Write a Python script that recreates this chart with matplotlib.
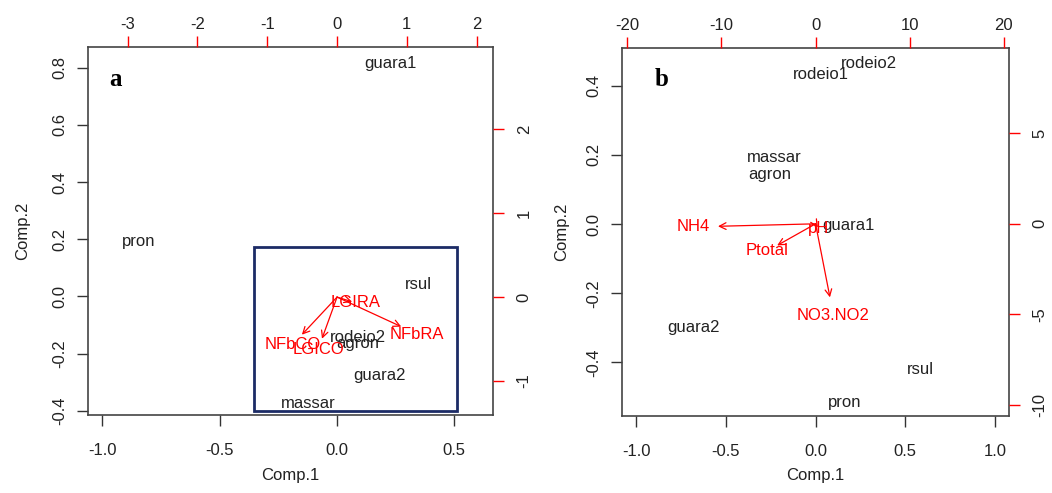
import matplotlib.pyplot as plt
import numpy as np

plt.rcParams['font.family'] = ['Liberation Sans', 'DejaVu Sans']
plt.rcParams['font.size'] = 12

# panel a: scores (Comp.1, Comp.2) and loadings
names_a = ['guara1', 'pron', 'rsul', 'rodeio2', 'agron', 'guara2', 'massar']
comp1_a = [0.226, -0.844, 0.345, 0.089, 0.090, 0.183, -0.124]
comp2_a = [0.816, 0.192, 0.040, -0.143, -0.164, -0.276, -0.373]
vars_a = ['LGIRA', 'NFbRA', 'NFbCO', 'LGICO']
load1_a = [0.27, 1.15, -0.63, -0.27]
load2_a = [-0.07, -0.44, -0.56, -0.62]
box_a = [-0.354, -0.401, 0.511, 0.174]  # x0, y0, x1, y1

# panel b
names_b = ['rodeio2', 'rodeio1', 'massar', 'agron', 'guara1', 'guara2', 'rsul', 'pron']
comp1_b = [0.295, 0.028, -0.228, -0.256, 0.184, -0.680, 0.585, 0.162]
comp2_b = [0.463, 0.431, 0.191, 0.142, -0.003, -0.298, -0.422, -0.515]
vars_b = ['NH4', 'Ptotal', 'pH', 'NO3.NO2']
load1_b = [-12.96, -5.1, 0.3, 1.91]
load2_b = [-0.17, -1.49, -0.25, -5.07]

fig = plt.figure(figsize=(10.52, 4.93), dpi=100)


def biplot(pos, names, c1, c2, vnames, l1, l2, xlim, ylim, xlim2, ylim2,
           xt, yt, xt2, yt2, tag, tagx, ylpad):
    ax = fig.add_axes(pos)
    ax.set_xlim(xlim)
    ax.set_ylim(ylim)
    ax.set_xticks(xt)
    ax.set_yticks(yt)
    ax.set_xticklabels(['%.1f' % v for v in xt])
    ax.set_yticklabels(['%.1f' % v for v in yt], rotation=90, va='center')
    ax.tick_params(direction='out', length=8, width=1, colors='#333333',
                   labelcolor='#222222')
    ax.tick_params(axis='x', pad=12)
    ax.tick_params(axis='y', pad=7)
    for s in ax.spines.values():
        s.set_color('#444444')
        s.set_linewidth(1.2)
    ax.set_xlabel('Comp.1', color='#222222', labelpad=7)
    ax.set_ylabel('Comp.2', color='#222222', labelpad=ylpad)
    for n, x, y in zip(names, c1, c2):
        ax.text(x, y, n, ha='center', va='center', color='#222222')
    ax.text(tagx, 0.913, tag, transform=ax.transAxes, family='Liberation Serif',
            fontweight='bold', fontsize=18, ha='center', va='center')

    ax2 = fig.add_axes(pos, frameon=False)
    ax2.set_xlim(xlim2)
    ax2.set_ylim(ylim2)
    ax2.xaxis.tick_top()
    ax2.yaxis.tick_right()
    ax2.set_xticks(xt2)
    ax2.set_yticks(yt2)
    ax2.set_xticklabels([str(v) for v in xt2])
    ax2.set_yticklabels([str(v) for v in yt2], rotation=90, va='center')
    ax2.tick_params(direction='out', length=8, width=1, color='red',
                    labelcolor='#222222')
    ax2.tick_params(axis='x', pad=3)
    ax2.tick_params(axis='y', pad=9)
    for n, x, y in zip(vnames, l1, l2):
        ax2.annotate('', xy=(0.8 * x, 0.8 * y), xytext=(0, 0),
                     arrowprops=dict(arrowstyle='->', color='red', lw=0.9,
                                     shrinkA=0, shrinkB=0, mutation_scale=12))
        ax2.text(x, y, n, ha='center', va='center', color='red')
    return ax, ax2


axa, axa2 = biplot([0.0837, 0.158, 0.385, 0.7465], names_a, comp1_a, comp2_a,
                   vars_a, load1_a, load2_a,
                   (-1.061, 0.665), (-0.415, 0.872), (-3.567, 2.235), (-1.405, 2.976),
                   [-1.0, -0.5, 0.0, 0.5], [-0.4, -0.2, 0.0, 0.2, 0.4, 0.6, 0.8],
                   [-3, -2, -1, 0, 1, 2], [-1, 0, 1, 2], 'a', 0.067, 16)
axa.add_patch(plt.Rectangle((box_a[0], box_a[1]), box_a[2] - box_a[0], box_a[3] - box_a[1],
                            fill=False, edgecolor='#1c2b66', linewidth=2, zorder=5))

axb, axb2 = biplot([0.5913, 0.1562, 0.3679, 0.7465], names_b, comp1_b, comp2_b,
                   vars_b, load1_b, load2_b,
                   (-1.078, 1.078), (-0.555, 0.509), (-20.56, 20.56), (-10.6, 9.7),
                   [-1.0, -0.5, 0.0, 0.5, 1.0], [-0.4, -0.2, 0.0, 0.2, 0.4],
                   [-20, -10, 0, 10, 20], [-10, -5, 0, 5], 'b', 0.103, 12)

fig.savefig('out.png', dpi=100)
